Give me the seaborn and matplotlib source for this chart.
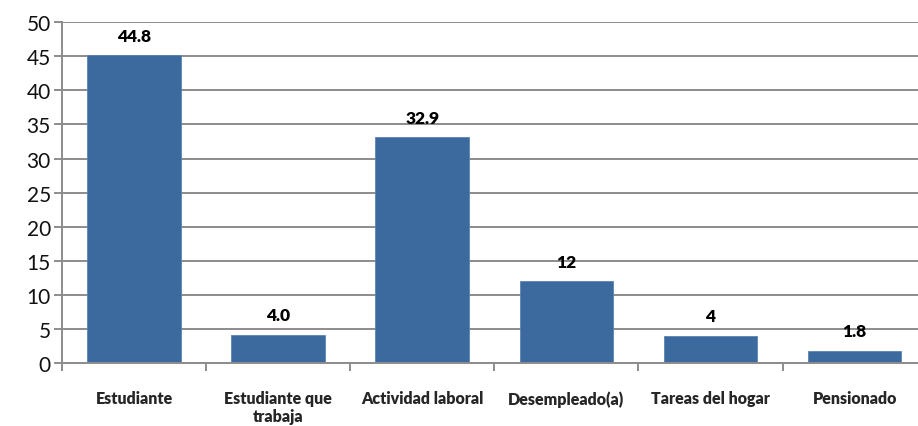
import numpy as np
import pandas as pd
import matplotlib
matplotlib.use('Agg')
import matplotlib.pyplot as plt
import seaborn as sns

categories = ['Estudiante', 'Estudiante que\ntrabaja', 'Actividad laboral',
              'Desempleado(a)', 'Tareas del hogar', 'Pensionado']
heights = [45.1, 4.2, 33.1, 12.0, 4.0, 1.8]
labels = ['44.8', '4.0', '32.9', '12', '4', '1.8']

sns.set_theme(style='white')
plt.rcParams['font.family'] = ['Lato', 'DejaVu Sans']

df = pd.DataFrame({'cat': categories, 'val': heights})

fig = plt.figure(figsize=(9.18, 4.27), dpi=100)
ax = fig.add_axes([0.0675, 0.147, 0.9325, 0.799])

grid_c = '#8c8c8c'
ax.set_ylim(0, 50)
ax.set_yticks(np.arange(0, 51, 5))
ax.yaxis.grid(True, color=grid_c, linewidth=1.4)
ax.set_axisbelow(True)

sns.barplot(data=df, x='cat', y='val', color='#3d6a9e', width=0.65,
            saturation=1, edgecolor='#5b83b3', linewidth=0.6, ax=ax)

for i, (h, t) in enumerate(zip(heights, labels)):
    ax.annotate(t, (i, h), xytext=(0, 8.5), textcoords='offset points',
                ha='center', va='bottom', fontsize=12.5, fontweight='heavy',
                color='black')

ax.set_xlim(-0.5, 5.44)
ax.set_xlabel('')
ax.set_ylabel('')

for s in ['top', 'right']:
    ax.spines[s].set_visible(False)
for s in ['left', 'bottom']:
    ax.spines[s].set_color(grid_c)
    ax.spines[s].set_linewidth(1.4)

ax.tick_params(axis='y', which='major', left=True, length=6, width=1.4,
               color=grid_c, labelsize=15, pad=2, labelcolor='#111111')
ax.set_xticks(np.arange(-0.5, 5.5, 1), minor=True)
ax.tick_params(axis='x', which='minor', bottom=True, length=6, width=1.4,
               color=grid_c)
ax.tick_params(axis='x', which='major', bottom=False, pad=13.5, labelsize=11.5)
for lab in ax.get_xticklabels():
    lab.set_fontweight('heavy')
    lab.set_linespacing(1.15)

fig.savefig('out.png', dpi=100)
